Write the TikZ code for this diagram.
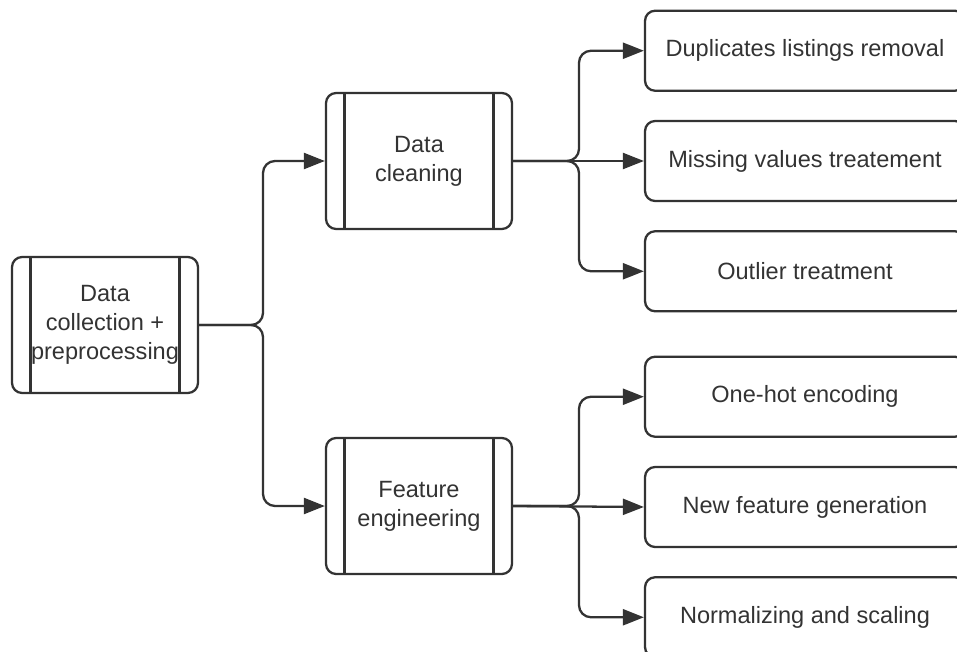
\documentclass[tikz,border=0pt]{standalone}
\usepackage{fontspec}
\setmainfont{Liberation Sans}
\usepackage{xcolor}
\usetikzlibrary{arrows.meta,positioning}

\definecolor{inkgray}{HTML}{333333}

\tikzset{
    boxfont/.style={font=\fontsize{13.4pt}{16.5pt}\selectfont, text=inkgray},
    procbox/.style={rectangle, draw=inkgray, line width=1.3pt, rounded corners=0.2cm,
        minimum width=3.72cm, minimum height=2.72cm, align=center, boxfont,
        path picture={
            \draw[inkgray, line width=1.3pt]
                ([xshift=0.37cm]path picture bounding box.north west) -- ([xshift=0.37cm]path picture bounding box.south west)
                ([xshift=-0.37cm]path picture bounding box.north east) -- ([xshift=-0.37cm]path picture bounding box.south east);
        }},
    taskbox/.style={rectangle, draw=inkgray, line width=1.3pt, rounded corners=0.2cm,
        minimum width=6.4cm, minimum height=1.6cm, boxfont},
    link/.style={draw=inkgray, line width=1.3pt, rounded corners=0.24cm,
        -{Triangle[length=0.42cm, width=0.32cm]}}
}

\begin{document}
\begin{tikzpicture}[x=0.02cm, y=-0.02cm, node distance=0.56cm]
    \useasboundingbox (0,0) rectangle (957,652);
    \clip (0,0) rectangle (957,652);

    \node (dcp) [procbox] at (105,325) {Data\\collection +\\preprocessing};
    \node (dclean) [procbox] at (419,161) {Data\\cleaning};
    \node (feat) [procbox] at (419,506) {Feature\\engineering};

    \node (miss) [taskbox] at (805,161) {Missing values treatement};
    \node (dup) [taskbox, above=of miss] {Duplicates listings removal};
    \node (outl) [taskbox, below=of miss] {Outlier treatment};

    \node (newf) [taskbox] at (805,507) {New feature generation};
    \node (onehot) [taskbox, above=of newf] {One-hot encoding};
    \node (norm) [taskbox, below=of newf] {Normalizing and scaling};

    \coordinate (fork) at (263,325);
    \coordinate (cfork) at (579,161);
    \coordinate (ffork) at (579,506);

    \draw [link] (dcp.east) -- (fork) |- (dclean.west);
    \draw [link] (dcp.east) -- (fork) |- (feat.west);

    \draw [link] (dclean.east) -- (cfork) |- (dup.west);
    \draw [link] (dclean.east) -- (miss.west);
    \draw [link] (dclean.east) -- (cfork) |- (outl.west);

    \draw [link] (feat.east) -- (ffork) |- (onehot.west);
    \draw [link] (feat.east) -- (newf.west);
    \draw [link] (feat.east) -- (ffork) |- (norm.west);
\end{tikzpicture}
\end{document}
